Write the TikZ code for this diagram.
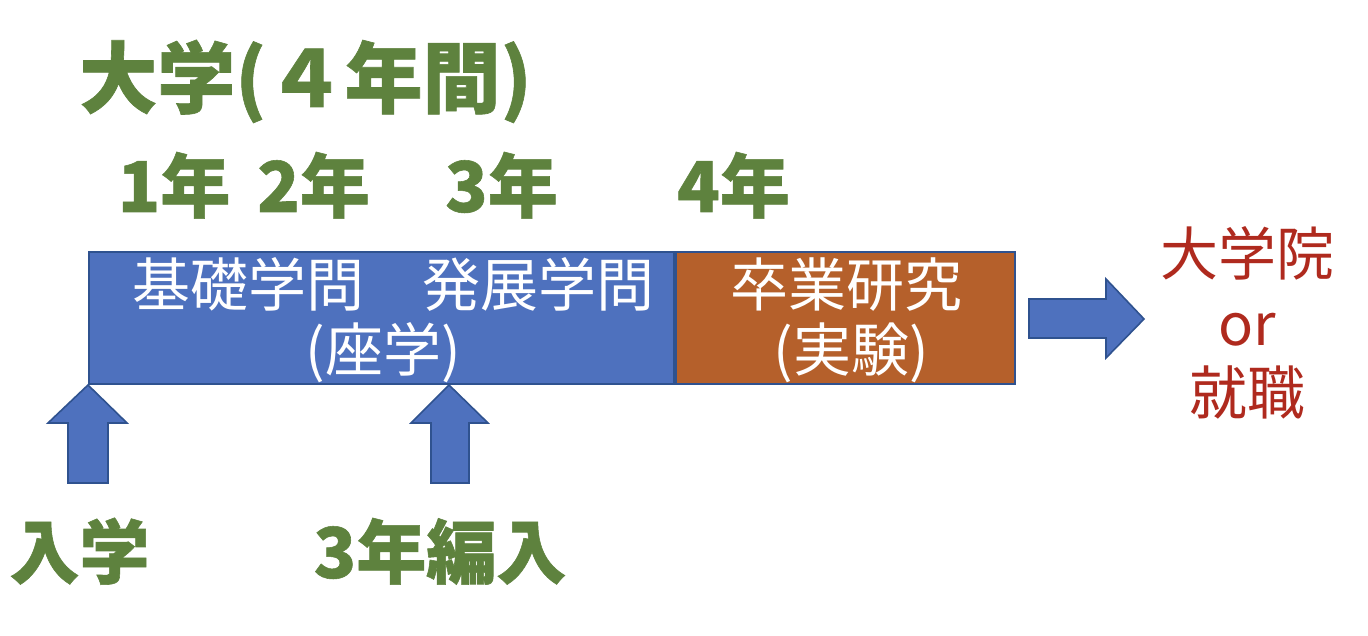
\documentclass[tikz,border=0pt]{standalone}
\usepackage{fontspec}
\setmainfont{Noto Sans CJK JP}
\newfontfamily\jpfont{Noto Sans CJK JP}
\newfontfamily\jpheavy[BoldFeatures={FakeBold=0.8}]{Noto Sans CJK JP}
\usetikzlibrary{calc}
\definecolor{boxblue}{HTML}{4E71BE}
\definecolor{edgeblue}{HTML}{2F528F}
\definecolor{boxorange}{HTML}{B5602B}
\definecolor{lblgreen}{HTML}{5E823E}
\definecolor{lblred}{HTML}{AF2A1E}
\begin{document}
\begin{tikzpicture}[x=1pt,y=-1pt,
  titlelbl/.style={text=lblgreen, font=\jpheavy\bfseries\fontsize{78}{78}\selectfont, inner sep=0pt, anchor=base},
  greenlbl/.style={text=lblgreen, font=\jpheavy\bfseries\fontsize{70}{70}\selectfont, inner sep=0pt, anchor=base},
  whitelbl/.style={text=white, font=\jpfont\fontsize{58}{58}\selectfont, inner sep=0pt, anchor=base},
  redlbl/.style={text=lblred, font=\jpfont\fontsize{58}{58}\selectfont, inner sep=0pt, anchor=base},
  phasebox/.style={draw=edgeblue, line width=2pt, inner sep=0pt, anchor=north west},
  blockarrow/.style={fill=boxblue, draw=edgeblue, line width=1.6pt, line join=miter}
]
\useasboundingbox (0,0) rectangle (1368,636);

% phase boxes
\node[phasebox, fill=boxblue, minimum width=585pt, minimum height=132pt] (study) at (88,251) {};
\node[phasebox, fill=boxorange, minimum width=339pt, minimum height=132pt] (thesis) at (675,251) {};

% title and year labels
\node[titlelbl] (title) at (305.5,107) {大学(４年間)};
\node[greenlbl] (y1) at (174,212) {1年};
\node[greenlbl] (y2) at (313.5,212) {2年};
\node[greenlbl] (y3) at (501.5,212) {3年};
\node[greenlbl] (y4) at (733.5,212) {4年};

% box texts
\node[whitelbl] (studyA) at (393.5,306) {基礎学問　発展学問};
\node[whitelbl] (studyB) at (383.5,371) {(座学)};
\node[whitelbl] (thesisA) at (846.5,306) {卒業研究};
\node[whitelbl] (thesisB) at (851.5,371) {(実験)};

% entry arrows
\coordinate (tipA) at (study.south west);
\coordinate (tipB) at ($(study.south west)+(361,0)$);
\draw[blockarrow] (tipA) -- ++(39,38) -- ++(-19,0) -- ++(0,60) -- ++(-40,0) -- ++(0,-60) -- ++(-20,0) -- cycle;
\draw[blockarrow] (tipB) -- ++(39,38) -- ++(-19,0) -- ++(0,60) -- ++(-38,0) -- ++(0,-60) -- ++(-20,0) -- cycle;

\node[greenlbl] (entry) at (79.5,578) {入学};
\node[greenlbl] (transfer) at (440,578) {3年編入};

% exit arrow
\coordinate (exitTip) at (1144,319);
\draw[blockarrow] (exitTip) -- ++(-38,-40) -- ++(0,20) -- ++(-77,0) -- ++(0,39) -- ++(77,0) -- ++(0,20) -- cycle;

\node[redlbl] (grad) at (1247.5,276) {大学院};
\node[redlbl] (orword) at (1247,345) {or};
\node[redlbl] (job) at (1247.5,414) {就職};
\end{tikzpicture}
\end{document}
